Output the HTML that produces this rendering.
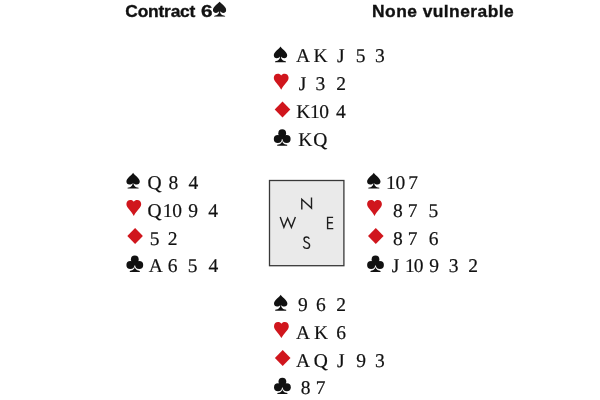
<!DOCTYPE html>
<html><head><meta charset="utf-8"><style>
html,body{margin:0;padding:0;background:#fff;width:600px;height:400px;overflow:hidden;position:relative}
.r{position:absolute;font-family:"Liberation Serif",serif;font-size:19.5px;line-height:19.5px;color:#111;-webkit-text-stroke:0.2px #111;white-space:pre;text-rendering:geometricPrecision}
.s{position:absolute;display:block}
.h{position:absolute;font-family:"Liberation Sans",sans-serif;font-weight:bold;font-size:17.4px;color:#111;-webkit-text-stroke:0.35px #111;white-space:pre}
.g{position:absolute;left:0;top:0;width:600px;height:400px;filter:grayscale(1)}
</style></head><body>
<svg class="s" style="left:0;top:0" width="600" height="400" viewBox="0 0 600 400">

<rect x="269.5" y="180.5" width="74.4" height="85.2" fill="#eaeaea" stroke="#383838" stroke-width="1.3"/>
<g fill="none" stroke="#1e1e1e" stroke-width="1.4" stroke-linecap="butt" stroke-linejoin="miter">
<path d="M301.8 209.6V199.3L311.5 208.1V197.5"/>
<path d="M280.2 216.9L283.9 227.3L287.6 218.3L291.4 227.3L295.4 216.9"/>
<path d="M333.1 217.4H327.6V228.6H333.3M327.6 222.7H332.8"/>
<path d="M309.3 238.7C308.7 237.5 307.7 237 306.6 237C305.1 237 304 238 304 239.5C304 243.1 309.6 241.6 309.6 245.4C309.6 247.2 308.3 248.4 306.5 248.4C305 248.4 303.8 247.5 303.3 246.2"/>
</g>
<svg x="212.9" y="1.6" width="13.4" height="15.2" viewBox="0 0 13.4 15.9" fill="#1a1a1a" preserveAspectRatio="none"><path d="M6.7 0C6 1.8 0 5.2 0 8.8C0 10.6 1.3 11.8 3 11.8C4.4 11.8 5.6 11.1 6.2 10.2C6.2 12.6 5 14.5 1.2 15V15.9H12.2V15C8.4 14.5 7.2 12.6 7.2 10.2C7.8 11.1 9 11.8 10.4 11.8C12.1 11.8 13.4 10.6 13.4 8.8C13.4 5.2 7.4 1.8 6.7 0Z"/></svg>
<g transform="translate(273.80 46.40)" fill="#111"><path d="M6.7 0C6 1.8 0 5.2 0 8.8C0 10.6 1.3 11.8 3 11.8C4.4 11.8 5.6 11.1 6.2 10.2C6.2 12.6 5 14.5 1.2 15V15.9H12.2V15C8.4 14.5 7.2 12.6 7.2 10.2C7.8 11.1 9 11.8 10.4 11.8C12.1 11.8 13.4 10.6 13.4 8.8C13.4 5.2 7.4 1.8 6.7 0Z"/></g>
<g transform="translate(273.80 73.70)" fill="#d0161d"><path d="M7.4 1.7C6.7 0.5 5.5 0 4 0C1.8 0 0 1.6 0 4.1C0 7.9 4.6 10.5 7.4 16C10.2 10.5 14.8 7.9 14.8 4.1C14.8 1.6 13 0 10.8 0C9.3 0 8.1 0.5 7.4 1.7Z"/></g>
<g transform="translate(274.70 101.60)" fill="#d0161d"><path d="M7.8 0L15.6 8L7.8 16L0 8Z"/></g>
<g transform="translate(273.80 129.40)" fill="#111"><circle cx="8.4" cy="3.8" r="3.9"/><circle cx="4" cy="9.5" r="4"/><circle cx="12.8" cy="9.5" r="4"/><path d="M8.4 4L4.6 9.8L12.2 9.8Z"/><path d="M8.4 10.5C8.35 13 7.3 14.7 3.4 15.3V16.3H13.4V15.3C9.5 14.7 8.45 13 8.4 10.5Z"/></g>
<g transform="translate(126.40 172.70)" fill="#111"><path d="M6.7 0C6 1.8 0 5.2 0 8.8C0 10.6 1.3 11.8 3 11.8C4.4 11.8 5.6 11.1 6.2 10.2C6.2 12.6 5 14.5 1.2 15V15.9H12.2V15C8.4 14.5 7.2 12.6 7.2 10.2C7.8 11.1 9 11.8 10.4 11.8C12.1 11.8 13.4 10.6 13.4 8.8C13.4 5.2 7.4 1.8 6.7 0Z"/></g>
<g transform="translate(126.40 200.00)" fill="#d0161d"><path d="M7.4 1.7C6.7 0.5 5.5 0 4 0C1.8 0 0 1.6 0 4.1C0 7.9 4.6 10.5 7.4 16C10.2 10.5 14.8 7.9 14.8 4.1C14.8 1.6 13 0 10.8 0C9.3 0 8.1 0.5 7.4 1.7Z"/></g>
<g transform="translate(127.30 227.90)" fill="#d0161d"><path d="M7.8 0L15.6 8L7.8 16L0 8Z"/></g>
<g transform="translate(126.40 255.60)" fill="#111"><circle cx="8.4" cy="3.8" r="3.9"/><circle cx="4" cy="9.5" r="4"/><circle cx="12.8" cy="9.5" r="4"/><path d="M8.4 4L4.6 9.8L12.2 9.8Z"/><path d="M8.4 10.5C8.35 13 7.3 14.7 3.4 15.3V16.3H13.4V15.3C9.5 14.7 8.45 13 8.4 10.5Z"/></g>
<g transform="translate(367.10 172.70)" fill="#111"><path d="M6.7 0C6 1.8 0 5.2 0 8.8C0 10.6 1.3 11.8 3 11.8C4.4 11.8 5.6 11.1 6.2 10.2C6.2 12.6 5 14.5 1.2 15V15.9H12.2V15C8.4 14.5 7.2 12.6 7.2 10.2C7.8 11.1 9 11.8 10.4 11.8C12.1 11.8 13.4 10.6 13.4 8.8C13.4 5.2 7.4 1.8 6.7 0Z"/></g>
<g transform="translate(367.10 200.00)" fill="#d0161d"><path d="M7.4 1.7C6.7 0.5 5.5 0 4 0C1.8 0 0 1.6 0 4.1C0 7.9 4.6 10.5 7.4 16C10.2 10.5 14.8 7.9 14.8 4.1C14.8 1.6 13 0 10.8 0C9.3 0 8.1 0.5 7.4 1.7Z"/></g>
<g transform="translate(368.00 227.90)" fill="#d0161d"><path d="M7.8 0L15.6 8L7.8 16L0 8Z"/></g>
<g transform="translate(367.10 255.60)" fill="#111"><circle cx="8.4" cy="3.8" r="3.9"/><circle cx="4" cy="9.5" r="4"/><circle cx="12.8" cy="9.5" r="4"/><path d="M8.4 4L4.6 9.8L12.2 9.8Z"/><path d="M8.4 10.5C8.35 13 7.3 14.7 3.4 15.3V16.3H13.4V15.3C9.5 14.7 8.45 13 8.4 10.5Z"/></g>
<g transform="translate(274.00 294.80)" fill="#111"><path d="M6.7 0C6 1.8 0 5.2 0 8.8C0 10.6 1.3 11.8 3 11.8C4.4 11.8 5.6 11.1 6.2 10.2C6.2 12.6 5 14.5 1.2 15V15.9H12.2V15C8.4 14.5 7.2 12.6 7.2 10.2C7.8 11.1 9 11.8 10.4 11.8C12.1 11.8 13.4 10.6 13.4 8.8C13.4 5.2 7.4 1.8 6.7 0Z"/></g>
<g transform="translate(274.00 322.10)" fill="#d0161d"><path d="M7.4 1.7C6.7 0.5 5.5 0 4 0C1.8 0 0 1.6 0 4.1C0 7.9 4.6 10.5 7.4 16C10.2 10.5 14.8 7.9 14.8 4.1C14.8 1.6 13 0 10.8 0C9.3 0 8.1 0.5 7.4 1.7Z"/></g>
<g transform="translate(274.90 350.00)" fill="#d0161d"><path d="M7.8 0L15.6 8L7.8 16L0 8Z"/></g>
<g transform="translate(274.00 377.80)" fill="#111"><circle cx="8.4" cy="3.8" r="3.9"/><circle cx="4" cy="9.5" r="4"/><circle cx="12.8" cy="9.5" r="4"/><path d="M8.4 4L4.6 9.8L12.2 9.8Z"/><path d="M8.4 10.5C8.35 13 7.3 14.7 3.4 15.3V16.3H13.4V15.3C9.5 14.7 8.45 13 8.4 10.5Z"/></g>
</svg>
<div class="g">
<div class="h" style="left:125.282px;top:0.6px;letter-spacing:-0.2px">Contract</div>
<div class="h" style="left:200.8px;top:0.6px;transform:scaleX(1.19);transform-origin:0 0">6</div>
<div class="h" style="left:372.082px;top:0.6px;letter-spacing:0.45px">None vulnerable</div>
<span class="r" style="left:296.01px;top:47px">A</span>
<span class="r" style="left:313.54px;top:47px">K</span>
<span class="r" style="left:336.89px;top:47px">J</span>
<span class="r" style="left:355.77px;top:47px">5</span>
<span class="r" style="left:375.07px;top:47px">3</span>
<span class="r" style="left:298.69px;top:75px">J</span>
<span class="r" style="left:315.47px;top:75px">3</span>
<span class="r" style="left:336.14px;top:75px">2</span>
<span class="r" style="left:296.24px;top:103px">K</span>
<span class="r" style="left:309.99px;top:103px">1</span>
<span class="r" style="left:319.36px;top:103px">0</span>
<span class="r" style="left:336.12px;top:103px">4</span>
<span class="r" style="left:298.24px;top:131px">K</span>
<span class="r" style="left:313.30px;top:131px">Q</span>
<span class="r" style="left:147.40px;top:174px">Q</span>
<span class="r" style="left:168.46px;top:174px">8</span>
<span class="r" style="left:188.52px;top:174px">4</span>
<span class="r" style="left:147.40px;top:202px">Q</span>
<span class="r" style="left:162.79px;top:202px">1</span>
<span class="r" style="left:172.16px;top:202px">0</span>
<span class="r" style="left:188.17px;top:202px">9</span>
<span class="r" style="left:208.32px;top:202px">4</span>
<span class="r" style="left:149.87px;top:230px">5</span>
<span class="r" style="left:167.84px;top:230px">2</span>
<span class="r" style="left:148.71px;top:257px">A</span>
<span class="r" style="left:167.86px;top:257px">6</span>
<span class="r" style="left:187.77px;top:257px">5</span>
<span class="r" style="left:208.62px;top:257px">4</span>
<span class="r" style="left:385.99px;top:174px">1</span>
<span class="r" style="left:395.56px;top:174px">0</span>
<span class="r" style="left:408.21px;top:174px">7</span>
<span class="r" style="left:392.96px;top:202px">8</span>
<span class="r" style="left:407.81px;top:202px">7</span>
<span class="r" style="left:428.57px;top:202px">5</span>
<span class="r" style="left:392.96px;top:230px">8</span>
<span class="r" style="left:407.81px;top:230px">7</span>
<span class="r" style="left:428.86px;top:230px">6</span>
<span class="r" style="left:391.79px;top:257px">J</span>
<span class="r" style="left:404.99px;top:257px">1</span>
<span class="r" style="left:413.86px;top:257px">0</span>
<span class="r" style="left:429.17px;top:257px">9</span>
<span class="r" style="left:448.87px;top:257px">3</span>
<span class="r" style="left:468.14px;top:257px">2</span>
<span class="r" style="left:298.07px;top:296px">9</span>
<span class="r" style="left:316.06px;top:296px">6</span>
<span class="r" style="left:336.14px;top:296px">2</span>
<span class="r" style="left:296.11px;top:324px">A</span>
<span class="r" style="left:313.94px;top:324px">K</span>
<span class="r" style="left:336.16px;top:324px">6</span>
<span class="r" style="left:296.11px;top:352px">A</span>
<span class="r" style="left:313.70px;top:352px">Q</span>
<span class="r" style="left:336.99px;top:352px">J</span>
<span class="r" style="left:356.17px;top:352px">9</span>
<span class="r" style="left:374.97px;top:352px">3</span>
<span class="r" style="left:300.66px;top:379px">8</span>
<span class="r" style="left:315.71px;top:379px">7</span>
</div>
</body></html>
